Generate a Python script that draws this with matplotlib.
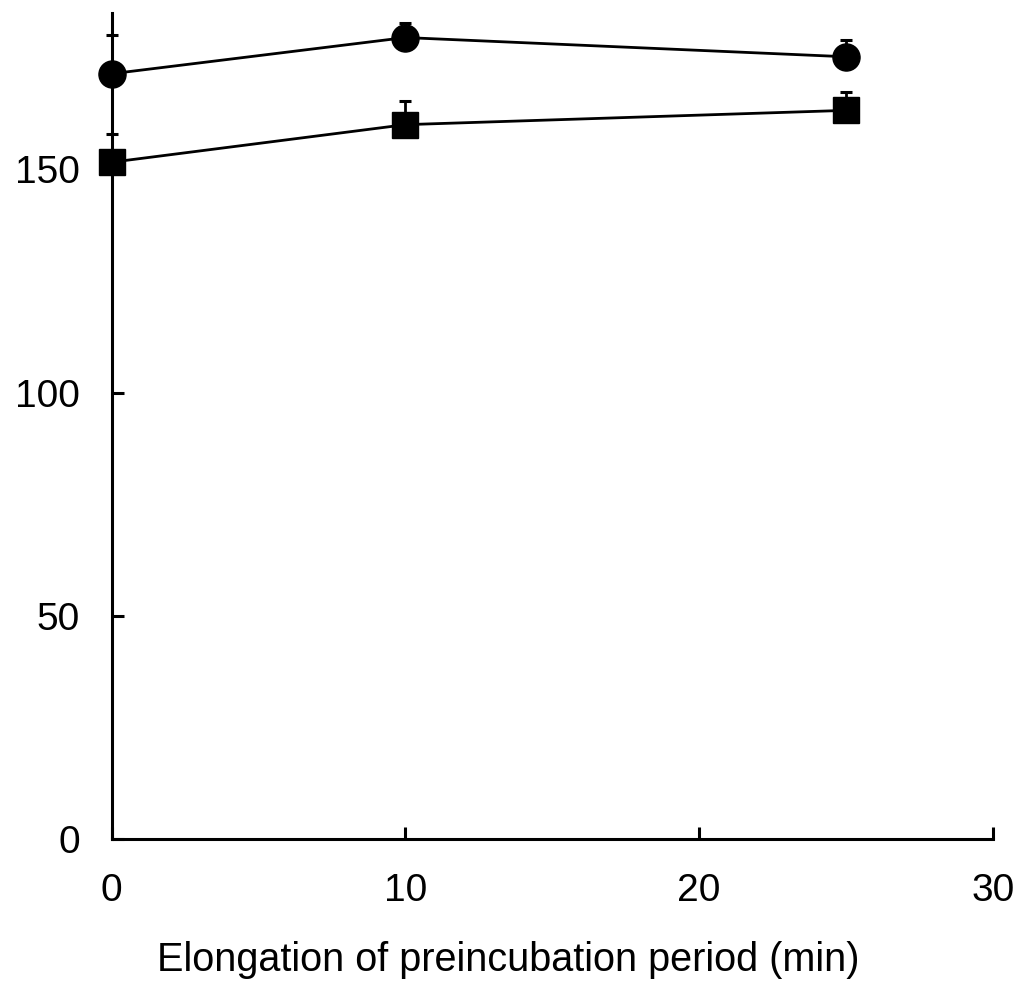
import numpy as np
import matplotlib
matplotlib.use("Agg")
import matplotlib.pyplot as plt

plt.rcParams['font.family'] = ['Liberation Sans', 'DejaVu Sans']

# preincubation elongation (min)
time_min = [0, 10, 25]

# circle series
circle_mean = [171.4, 179.5, 175.2]
circle_err = [8.7, 3.3, 3.8]

# square series
square_mean = [151.6, 160.0, 163.2]
square_err = [6.2, 5.4, 4.0]

x_ticks = [0, 10, 20, 30]
y_ticks = [0, 50, 100, 150]
x_label = "Elongation of preincubation period (min)"

fig = plt.figure(figsize=(10.21, 9.83), dpi=100)
ax = fig.add_axes([0.1094, 0.146, 0.8629, 0.8408])

for mean, err, mk, ms in [(circle_mean, circle_err, 'o', 19.5),
                          (square_mean, square_err, 's', 18.5)]:
    ax.errorbar(time_min, mean, yerr=[np.zeros(len(err)), err],
                fmt='-', marker=mk, color='black', markersize=ms,
                linewidth=2, elinewidth=2, capsize=4.5, capthick=2.2,
                clip_on=False, zorder=3)

ax.set_xlim(0, 30)
ax.set_ylim(0, 185)
ax.set_xticks(x_ticks)
ax.set_yticks(y_ticks)

for side in ['top', 'right']:
    ax.spines[side].set_visible(False)
for side in ['left', 'bottom']:
    ax.spines[side].set_linewidth(2.2)

ax.tick_params(direction='in', length=8.5, width=2.2, labelsize=28)
ax.tick_params(axis='x', pad=24)
ax.tick_params(axis='y', pad=23)

ax.set_xlabel(x_label, fontsize=28.5, va='center')
ax.xaxis.set_label_coords(0.45, -0.146)

fig.savefig("out.png", dpi=100)
